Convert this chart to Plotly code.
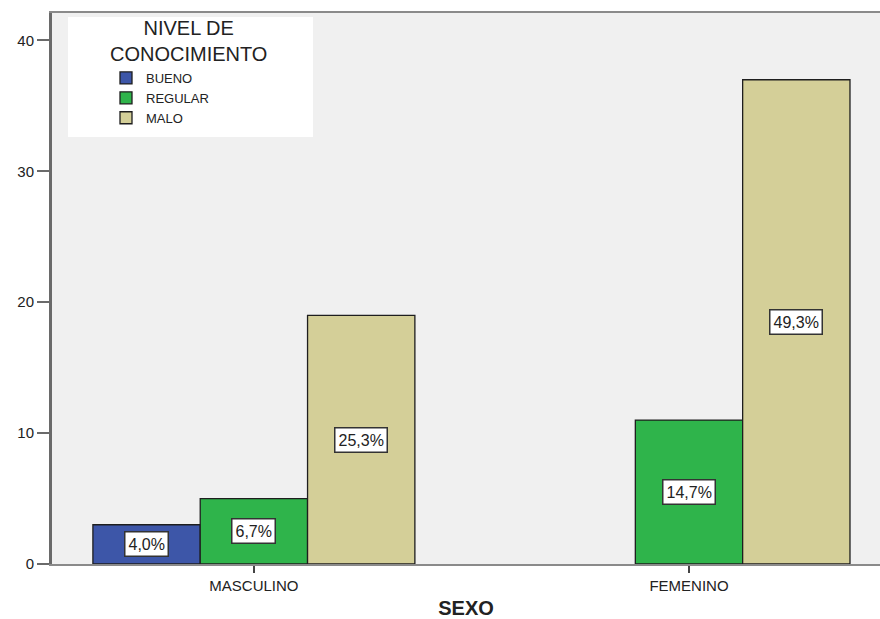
import plotly.graph_objects as go

# Counts of knowledge level by sex (n = 75)
sexo = ["MASCULINO", "FEMENINO"]
niveles = ["BUENO", "REGULAR", "MALO"]
bueno = [3, None]
regular = [5, 11]
malo = [19, 37]
colores = ["#3d56a8", "#2fb44b", "#d4cf98"]

series = [bueno, regular, malo]
total = sum(v for s in series for v in s if v is not None)

bargap = 0.26
slot = (1 - bargap) / len(series)

fig = go.Figure()
for nombre, valores, color in zip(niveles, series, colores):
    fig.add_trace(go.Bar(
        name=nombre, x=sexo, y=valores,
        marker=dict(color=color, line=dict(color="#1e1e1e", width=1.3)),
    ))

# Percentage labels centred inside each bar
font_fam = "Liberation Sans, Arial, sans-serif"
annotations = []
for k, valores in enumerate(series):
    offset = (k - (len(series) - 1) / 2) * slot
    for i, v in enumerate(valores):
        if v is None:
            continue
        pct = f"{v / total * 100:.1f}%".replace(".", ",")
        annotations.append(dict(
            x=i + offset, y=v / 2, xref="x", yref="y", text=pct,
            showarrow=False, bgcolor="white", bordercolor="#333333",
            borderwidth=1.5, borderpad=3,
            font=dict(family=font_fam, size=16, color="#222222"),
        ))

W, H = 880, 619
L, R, T, B = 52, 0, 13, 55
pw, ph = W - L - R, H - T - B


def px_x(x):
    return (x - L) / pw


def px_y(y):
    return (H - B - y) / ph


# Legend heading (two centred lines)
annotations.append(dict(
    x=px_x(188), y=px_y(41), xref="paper", yref="paper",
    xanchor="center", yanchor="middle", align="center",
    text="NIVEL DE<br>CONOCIMIENTO", showarrow=False,
    font=dict(family=font_fam, size=20, color="#222222"),
))

fig.update_layout(
    width=W, height=H,
    margin=dict(l=L, r=R, t=T, b=B),
    paper_bgcolor="white", plot_bgcolor="#f0f0f0",
    barmode="group", bargap=bargap, bargroupgap=0,
    font=dict(family=font_fam, color="#222222"),
    annotations=annotations,
    shapes=[dict(
        type="rect", xref="paper", yref="paper",
        x0=px_x(68), x1=px_x(313), y0=px_y(137), y1=px_y(17),
        fillcolor="white", line=dict(width=0), layer="below",
    )],
    legend=dict(
        x=px_x(106), y=px_y(63), xanchor="left", yanchor="top",
        bgcolor="rgba(0,0,0,0)", borderwidth=0,
        font=dict(family=font_fam, size=13, color="#222222"),
        tracegroupgap=0, itemclick=False,
    ),
    xaxis=dict(
        range=[-0.464, 1.439], showgrid=False,
        showline=True, linecolor="#8a8a8a", linewidth=2, mirror=True,
        ticks="outside", ticklen=7, tickwidth=2, tickcolor="#444444",
        tickfont=dict(size=15, color="#222222"),
        title=dict(text="<b>SEXO</b>", font=dict(size=20, color="#222222"), standoff=12),
    ),
    yaxis=dict(
        range=[0, 42.1], tickvals=[0, 10, 20, 30, 40], showgrid=False,
        zeroline=False, showline=True, linecolor="#6a6a6a", linewidth=3,
        ticks="outside", ticklen=12, tickwidth=2, tickcolor="#6a6a6a",
        tickfont=dict(size=15, color="#222222"),
    ),
)

fig.write_html("out.html")
